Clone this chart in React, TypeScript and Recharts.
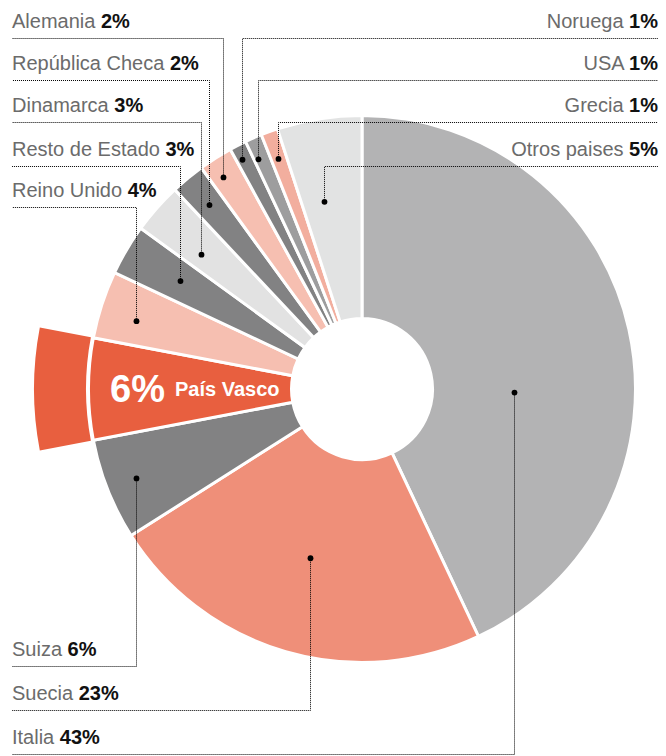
import React from "react";
import { PieChart, Pie, Cell } from "recharts";

// export share by destination, clockwise from 12 o'clock
const countries = [
  "Italia",
  "Suecia",
  "Suiza",
  "País Vasco",
  "Reino Unido",
  "Resto de Estado",
  "Dinamarca",
  "República Checa",
  "Alemania",
  "Noruega",
  "USA",
  "Grecia",
  "Otros paises",
];
const shares = [43, 23, 6, 6, 4, 3, 3, 2, 2, 1, 1, 1, 5];
const highlight = "País Vasco";

const colors = [
  "#b3b3b4",
  "#ef8f79",
  "#828283",
  "#e85f3f",
  "#f6bfb1",
  "#828283",
  "#e2e2e2",
  "#828283",
  "#f6bfb1",
  "#828283",
  "#9d9d9e",
  "#f2ae9e",
  "#e2e3e3",
];

// label placement: side, y of the dotted rule, dot radius, dot position inside slice (0..1)
const labelLayout = [
  { side: "bottom", lineY: 754.5, r: 152, at: 0.59 },
  { side: "bottom", lineY: 710.5, r: 177, at: 0.51 },
  { side: "bottom", lineY: 666.5, r: 243, at: 0.5 },
  null,
  { side: "left", lineY: 207.5, r: 236, at: 0.41 },
  { side: "left", lineY: 166.5, r: 212, at: 0.5 },
  { side: "left", lineY: 122.5, r: 210, at: 0.35 },
  { side: "left", lineY: 80.5, r: 239, at: 0.49 },
  { side: "left", lineY: 38.5, r: 253, at: 0.38 },
  { side: "right", lineY: 38.5, r: 259, at: 0.3 },
  { side: "right", lineY: 80.5, r: 252, at: 0.25 },
  { side: "right", lineY: 122.5, r: 245, at: 0.42 },
  { side: "right", lineY: 166.5, r: 191, at: 0.36 },
];

const data = countries.map((name, i) => ({ name, value: shares[i] }));

const FONT = "'Liberation Sans', Arial, Helvetica, sans-serif";
const LEFT_X = 12;
const RIGHT_X = 658;
const RAD = Math.PI / 180;

const total = shares.reduce((a, b) => a + b, 0);
const startAngles = shares.map(
  (_, i) => 90 - (shares.slice(0, i).reduce((a, b) => a + b, 0) / total) * 360
);

function renderLabel(props: any) {
  const { cx, cy, index, value, name, innerRadius } = props;
  if (name === highlight) {
    return (
      <text
        key={`l-${index}`}
        x={cx - innerRadius - 12}
        y={cy + 13}
        textAnchor="end"
        fill="#fff"
        fontFamily={FONT}
        fontWeight="bold"
      >
        <tspan fontSize={38}>{value}%</tspan>
        <tspan fontSize={20} dx={10} dy={-6}>
          {name}
        </tspan>
      </text>
    );
  }
  const lay = labelLayout[index];
  if (!lay) return null;
  const start = props.startAngle ?? startAngles[index];
  const end = props.endAngle ?? start - (value / total) * 360;
  const ang = start + (end - start) * lay.at;
  const px = Math.round(cx + lay.r * Math.cos(-ang * RAD)) + 0.5;
  const py = cy + lay.r * Math.sin(-ang * RAD);
  const lineEnd = lay.side === "right" ? RIGHT_X : LEFT_X;
  const textX = lay.side === "right" ? RIGHT_X : LEFT_X;
  const anchor = lay.side === "right" ? "end" : "start";
  return (
    <g key={`l-${index}`}>
      <path
        d={`M${px},${py} L${px},${lay.lineY} L${lineEnd},${lay.lineY}`}
        fill="none"
        stroke="#000"
        strokeWidth={1}
        strokeDasharray="1 1"
      />
      <circle cx={px} cy={py} r={2.9} fill="#000" />
      <text
        x={textX}
        y={lay.lineY - 10.5}
        textAnchor={anchor}
        fontFamily={FONT}
        fontSize={20}
      >
        <tspan fill="#6b6b6b">{name} </tspan>
        <tspan fill="#111" fontWeight="bold">
          {value}%
        </tspan>
      </text>
    </g>
  );
}

export default function App() {
  return (
    <div style={{ position: "absolute", left: 0, top: 0, background: "#fff" }}>
      <PieChart width={666} height={756} margin={{ top: 0, right: 0, bottom: 0, left: 0 }}>
        <Pie
          data={data}
          dataKey="value"
          nameKey="name"
          cx={362}
          cy={389}
          startAngle={90}
          endAngle={-270}
          innerRadius={276}
          outerRadius={328}
          stroke="none"
          isAnimationActive={false}
        >
          {data.map((d, i) => (
            <Cell key={d.name} fill={d.name === highlight ? colors[i] : "transparent"} />
          ))}
        </Pie>
        <Pie
          data={data}
          dataKey="value"
          nameKey="name"
          cx={362}
          cy={389}
          startAngle={90}
          endAngle={-270}
          innerRadius={70.5}
          outerRadius={273.5}
          stroke="#fff"
          strokeWidth={3}
          label={renderLabel}
          labelLine={false}
          isAnimationActive={false}
        >
          {data.map((d, i) => (
            <Cell key={d.name} fill={colors[i]} />
          ))}
        </Pie>
      </PieChart>
    </div>
  );
}
